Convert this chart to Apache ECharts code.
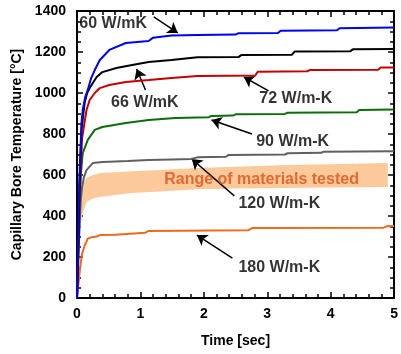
<!DOCTYPE html>
<html><head><meta charset="utf-8">
<script src="https://cdn.jsdelivr.net/npm/echarts/dist/echarts.min.js"></script>
<style>html,body{margin:0;padding:0;background:#fff}#c{width:401px;height:354px}</style>
</head><body><div id="c"></div>
<script>
// ---- data: [time (sec), temperature (°C)] ----
const k60 = [[0,0],[0.02,300],[0.04,600],[0.07,850],[0.09,917],[0.13,980],[0.17,1015],[0.22,1070],[0.28,1112],[0.36,1161],[0.51,1210],[0.77,1244],[1.13,1254],[1.2,1270],[1.49,1281],[1.9,1283],[2.5,1285],[2.54,1291],[3.17,1293],[3.21,1304],[4.1,1306],[4.14,1316],[5,1320]];
const k66 = [[0,0],[0.02,250],[0.04,550],[0.07,820],[0.12,951],[0.16,1000],[0.2,1024],[0.31,1078],[0.4,1102],[0.62,1122],[0.87,1137],[1.13,1151],[1.49,1161],[1.9,1174],[2.55,1176],[2.59,1185],[3.39,1187],[3.43,1202],[4.31,1204],[4.35,1213],[5,1215]];
const k72 = [[0,0],[0.02,230],[0.04,500],[0.08,780],[0.15,917],[0.2,966],[0.28,1000],[0.36,1024],[0.51,1039],[0.77,1054],[1.13,1063],[1.49,1073],[1.9,1083],[2.81,1085],[2.85,1104],[3.63,1106],[3.67,1112],[4.75,1114],[4.79,1124],[5,1124]];
const k90 = [[0,0],[0.02,200],[0.04,420],[0.06,600],[0.09,707],[0.17,771],[0.28,820],[0.4,834],[0.77,854],[1.13,868],[1.55,878],[1.9,881],[2.08,882],[2.12,888],[2.46,890],[2.5,896],[3.28,898],[3.32,904],[4.41,906],[4.45,917],[5,919]];
const k120 = [[0,0],[0.02,180],[0.04,350],[0.06,480],[0.08,541],[0.11,590],[0.15,624],[0.25,659],[0.4,663],[0.8,668],[1.13,673],[1.5,676],[1.8,678],[1.9,686],[2.35,689],[2.39,698],[3.28,700],[3.32,706],[3.85,708],[3.89,714],[5,716]];
const k180 = [[0,0],[0.02,60],[0.05,150],[0.08,215],[0.12,255],[0.17,290],[0.25,298],[0.31,300],[0.36,307],[0.6,309],[0.63,317],[1.08,318],[1.12,327],[2.7,330],[2.76,341],[4.84,343],[4.88,350],[5,351]];

// range of materials tested (band)
const bandT    = [0, 0.01, 0.03, 0.06, 0.09, 0.15, 0.25, 0.36, 0.6, 0.87, 1.3, 1.9, 2.5, 3.2, 4.0, 4.9];
const bandHigh = [0, 250, 420, 520, 555, 585, 600, 610, 614, 618, 625, 634, 640, 647, 653, 659];
const bandLow  = [0, 120, 250, 360, 415, 468, 485, 493, 503, 512, 520, 530, 534, 537, 539, 541];

// annotations: label text, label anchor [t,v], arrow tail [t,v], arrow head [t,v]
const annLabels = ['60 W/mK', '66 W/mK', '72 W/m-K', '90 W/m-K', '120 W/m-K', '180 W/m-K'];
const annPos    = [[0.57,1341],[1.07,951],[3.45,971],[3.40,761],[3.19,459],[3.19,146]];
const annTail   = [[1.21,1371],[1.08,1015],[3.02,1010],[2.76,800],[2.48,498],[2.45,195]];
const annHead   = [[1.59,1293],[0.94,1117],[2.63,1078],[2.12,868],[1.81,678],[1.89,307]];
const rangeLabel = 'Range of materials tested';
const rangePos = [2.91, 576];

const xTicks = [0,1,2,3,4,5];
const yTicks = [0,200,400,600,800,1000,1200,1400];

const FONT = 'Liberation Sans, Arial, sans-serif';
const chart = echarts.init(document.getElementById('c'), null, {renderer:'canvas'});

function lineSeries(data, color){
  return {type:'line', data, showSymbol:false, symbol:'none', z:5,
    lineStyle:{color, width:2}, itemStyle:{color}, animation:false};
}
function axisCommon(){
  return {
    axisLine:{show:true, onZero:false, lineStyle:{color:'#000', width:2}},
    axisTick:{show:true, inside:true, length:6, lineStyle:{color:'#000', width:1.5}},
    splitLine:{show:false}
  };
}
const labelStyle = {color:'#000', fontWeight:'bold', fontSize:14, fontFamily:FONT};
const plain = v => String(v);

const option = {
  animation:false,
  backgroundColor:'#fff',
  grid:{left:77, right:1, top:11, bottom:56, containLabel:false},
  xAxis:[
    Object.assign(axisCommon(), {type:'value', min:xTicks[0], max:xTicks[xTicks.length-1], interval:1, position:'bottom',
      minorTick:{show:true, splitNumber:5, length:4, lineStyle:{color:'#000', width:1.5}},
      axisLabel:Object.assign({margin:9, formatter:plain}, labelStyle),
      name:'Time [sec]', nameLocation:'middle', nameGap:36, nameTextStyle:labelStyle}),
    Object.assign(axisCommon(), {type:'value', min:0, max:5, interval:1, position:'top',
      minorTick:{show:true, splitNumber:5, length:4, lineStyle:{color:'#000', width:1.5}},
      axisLabel:{show:false}})
  ],
  yAxis:[
    Object.assign(axisCommon(), {type:'value', min:yTicks[0], max:yTicks[yTicks.length-1], interval:200, position:'left',
      minorTick:{show:true, splitNumber:4, length:4, lineStyle:{color:'#000', width:1.5}},
      axisLabel:Object.assign({margin:11, formatter:plain}, labelStyle),
      name:'Capillary Bore Temperature [°C]', nameLocation:'middle', nameGap:49, nameTextStyle:labelStyle}),
    Object.assign(axisCommon(), {type:'value', min:0, max:1400, interval:200, position:'right',
      minorTick:{show:true, splitNumber:4, length:4, lineStyle:{color:'#000', width:1.5}},
      axisLabel:{show:false}})
  ],
  series:[
    {type:'custom', xAxisIndex:0, yAxisIndex:0, z:1, data:[[0,0]], silent:true,
      renderItem:function(params, api){
        const pts = [];
        for (let i=0;i<bandT.length;i++) pts.push(api.coord([bandT[i], bandHigh[i]]));
        for (let i=bandT.length-1;i>=0;i--) pts.push(api.coord([bandT[i], bandLow[i]]));
        return {type:'polygon', shape:{points:pts}, style:{fill:'#fcc99a', stroke:null}};
      }},
    lineSeries(k180, '#ee6a1a'),
    lineSeries(k120, '#606060'),
    lineSeries(k90, '#0a6e0a'),
    lineSeries(k72, '#c40000'),
    lineSeries(k66, '#000000'),
    lineSeries(k60, '#0000f0'),
    {type:'scatter', symbolSize:0, z:10, silent:true,
      data: annLabels.map((t,i)=>({value:annPos[i], label:{show:true, position:'inside', formatter:t,
        color:'#000', fontWeight:'bold', fontSize:16, fontFamily:FONT}}))
        .concat([{value:rangePos, label:{show:true, position:'inside', formatter:rangeLabel,
        color:'#dd5014', fontWeight:'bold', fontSize:16, fontFamily:FONT}}]),
      markLine:{silent:true, symbol:['none','arrow'], symbolSize:10, animation:false,
        label:{show:false}, lineStyle:{color:'#000', width:1.5, type:'solid'},
        data: annTail.map((p,i)=>[{coord:p},{coord:annHead[i]}])}
    }
  ]
};
chart.setOption(option);
</script></body></html>
